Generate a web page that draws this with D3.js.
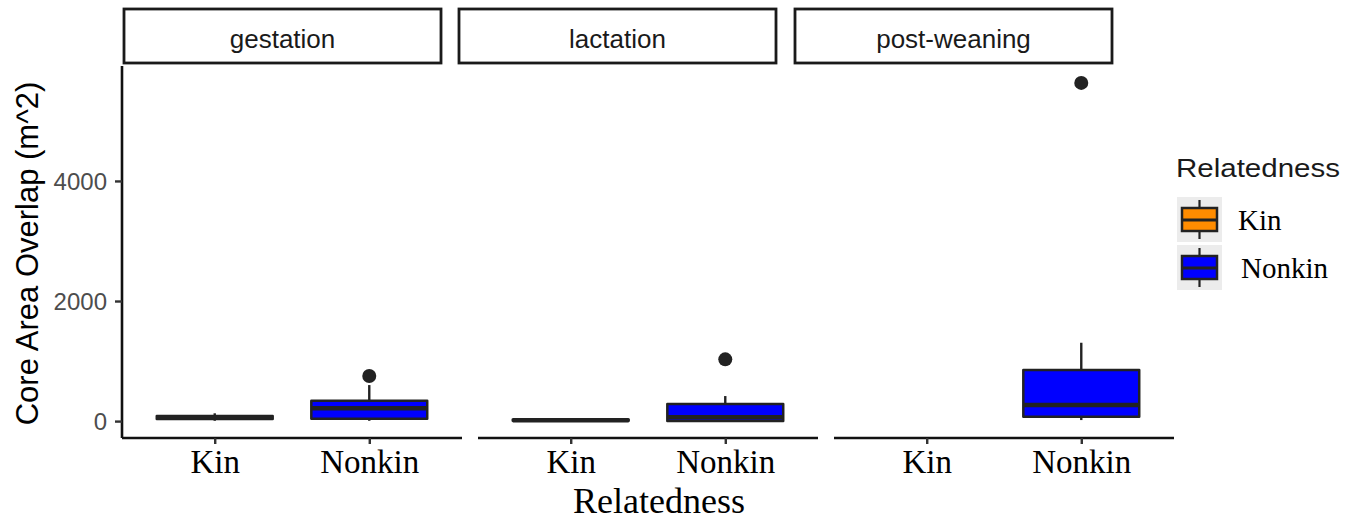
<!DOCTYPE html>
<html>
<head>
<meta charset="utf-8">
<script src="https://cdn.jsdelivr.net/npm/d3@7"></script>
<style>
  body { margin: 0; background: #fff; }
  svg { display: block; }
</style>
</head>
<body>
<svg id="chart" width="1346" height="520"></svg>
<script>
// facet panels and x categories
const phases = ["gestation", "lactation", "post-weaning"];
const groups = ["Kin", "Nonkin"];
const groupColors = ["#ff8c00", "#0000ff"];

// five-number summaries [lower, q1, median, q3, upper], one per phase (null = no data)
const kinStats = [
  [5, 35, 60, 85, 130],
  [0, 5, 15, 25, 40],
  null
];
const nonkinStats = [
  [5, 38, 212, 338, 600],
  [0, 2, 65, 283, 417],
  [17, 72, 267, 850, 1305]
];
const nonkinOutliers = [[750], [1028], [5633]];
const kinOutliers = [[], [], []];

const yTicks = [0, 2000, 4000];

const svg = d3.select("#chart");
const panelTop = 66, panelBottom = 438;
const panelLeft = [122, 478, 834], panelW = 340;
const stripX = [124, 459, 795], stripW = 317;

// y scale with ggplot style 5% expansion
const allVals = kinStats.concat(nonkinStats).filter(d => d).flat()
  .concat(nonkinOutliers.flat(), kinOutliers.flat());
const yMin = d3.min(allVals), yMax = d3.max(allVals);
const pad = (yMax - yMin) * 0.05;
const y = d3.scaleLinear().domain([yMin - pad, yMax + pad]).range([panelBottom, panelTop]);

const statsByGroup = [kinStats, nonkinStats];
const outByGroup = [kinOutliers, nonkinOutliers];

phases.forEach((phase, p) => {
  const x = d3.scalePoint().domain(groups).range([panelLeft[p], panelLeft[p] + panelW]).padding(0.6);
  const bw = x.step() * 0.75;
  const g = svg.append("g");

  // strip
  svg.append("rect")
    .attr("x", stripX[p]).attr("y", 9).attr("width", stripW).attr("height", 54)
    .attr("fill", "#fff").attr("stroke", "#1a1a1a").attr("stroke-width", 2.8);
  svg.append("text")
    .attr("x", stripX[p] + stripW / 2).attr("y", 48)
    .attr("text-anchor", "middle")
    .attr("font-family", "Liberation Sans, Arial, sans-serif")
    .attr("font-size", 26).attr("fill", "#1a1a1a")
    .text(phase);

  groups.forEach((grp, k) => {
    const s = statsByGroup[k][p];
    if (!s) return;
    const cx = x(grp);
    // whiskers
    g.append("line").attr("x1", cx).attr("x2", cx).attr("y1", y(s[3])).attr("y2", y(s[4]))
      .attr("stroke", "#222").attr("stroke-width", 2.4);
    g.append("line").attr("x1", cx).attr("x2", cx).attr("y1", y(s[1])).attr("y2", y(s[0]))
      .attr("stroke", "#222").attr("stroke-width", 2.4);
    // box
    g.append("rect")
      .attr("x", cx - bw / 2).attr("width", bw)
      .attr("y", y(s[3])).attr("height", Math.max(0.5, y(s[1]) - y(s[3])))
      .attr("fill", groupColors[k]).attr("stroke", "#222").attr("stroke-width", 2.5)
      .attr("stroke-linejoin", "round");
    // median
    g.append("line").attr("x1", cx - bw / 2).attr("x2", cx + bw / 2)
      .attr("y1", y(s[2])).attr("y2", y(s[2]))
      .attr("stroke", "#222").attr("stroke-width", 4.5);
    // outliers
    g.selectAll(null).data(outByGroup[k][p]).enter().append("circle")
      .attr("cx", cx).attr("cy", d => y(d)).attr("r", 7).attr("fill", "#222");
  });

  // x axis
  const ax = svg.append("g").attr("transform", `translate(0,${panelBottom})`)
    .call(d3.axisBottom(x).tickSize(6).tickSizeOuter(0));
  ax.select(".domain").attr("stroke", "#111").attr("stroke-width", 2.6)
    .attr("d", `M${panelLeft[p]},0H${panelLeft[p] + panelW}`);
  ax.selectAll(".tick line").attr("stroke", "#333").attr("stroke-width", 2.4);
  ax.selectAll(".tick text")
    .attr("font-family", "Liberation Serif, Times New Roman, serif")
    .attr("font-size", 33).attr("fill", "#000").attr("dy", 0).attr("y", 35);
});

// y axis on the first panel
const ay = svg.append("g").attr("transform", `translate(${panelLeft[0]},0)`)
  .call(d3.axisLeft(y).tickValues(yTicks).tickSize(7).tickSizeOuter(0).tickFormat(d3.format("d")));
ay.select(".domain").attr("stroke", "#111").attr("stroke-width", 2.6)
  .attr("d", `M0,${panelTop}V${panelBottom}`);
ay.selectAll(".tick line").attr("stroke", "#333").attr("stroke-width", 2.4);
ay.selectAll(".tick text")
  .attr("font-family", "Liberation Sans, Arial, sans-serif")
  .attr("font-size", 24).attr("fill", "#4d4d4d").attr("x", -15).attr("dy", "0.35em");

// axis titles
svg.append("text")
  .attr("transform", `translate(38,${(80 + 427) / 2}) rotate(-90)`)
  .attr("text-anchor", "middle")
  .attr("font-family", "Liberation Sans, Arial, sans-serif")
  .attr("font-size", 31).attr("fill", "#000")
  .text("Core Area Overlap (m^2)");
svg.append("text")
  .attr("x", 659).attr("y", 513)
  .attr("text-anchor", "middle")
  .attr("font-family", "Liberation Serif, Times New Roman, serif")
  .attr("font-size", 36).attr("fill", "#000")
  .text("Relatedness");

// legend
const leg = svg.append("g");
leg.append("text")
  .attr("x", 1176).attr("y", 177)
  .attr("font-family", "Liberation Sans, Arial, sans-serif")
  .attr("font-size", 26).attr("fill", "#1a1a1a")
  .attr("textLength", 164).attr("lengthAdjust", "spacingAndGlyphs")
  .text("Relatedness");
groups.forEach((grp, k) => {
  const top = 197 + k * 48;
  leg.append("rect").attr("x", 1177).attr("y", top).attr("width", 45).attr("height", 45).attr("fill", "#ececec");
  leg.append("line").attr("x1", 1199.5).attr("x2", 1199.5).attr("y1", top + 3).attr("y2", top + 42)
    .attr("stroke", "#222").attr("stroke-width", 2.2);
  leg.append("rect").attr("x", 1182).attr("y", top + 11).attr("width", 35).attr("height", 23)
    .attr("fill", groupColors[k]).attr("stroke", "#222").attr("stroke-width", 2.5);
  leg.append("line").attr("x1", 1182).attr("x2", 1217).attr("y1", top + 23).attr("y2", top + 23)
    .attr("stroke", "#222").attr("stroke-width", 2.8);
  leg.append("text")
    .attr("x", 1238 + k * 3).attr("y", top + 33)
    .attr("font-family", "Liberation Serif, Times New Roman, serif")
    .attr("font-size", 29).attr("fill", "#000")
    .text(grp);
});
</script>
</body>
</html>
